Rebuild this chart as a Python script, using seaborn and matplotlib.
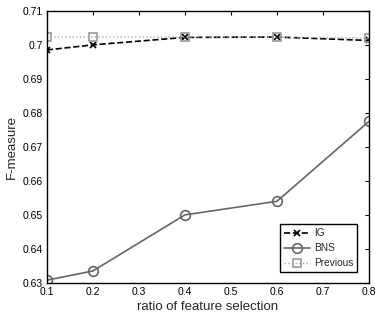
import numpy as np
import pandas as pd
import matplotlib
matplotlib.use("Agg")
import matplotlib.pyplot as plt
import seaborn as sns

ratio = [0.1, 0.2, 0.4, 0.6, 0.8]
ig = [0.6985, 0.7000, 0.7022, 0.7023, 0.7013]
bns = [0.6308, 0.6335, 0.6500, 0.6540, 0.6775]
previous = [0.7023, 0.7023, 0.7023, 0.7023, 0.7020]

sns.set_style("white")
plt.rcParams['font.family'] = ['Liberation Sans', 'DejaVu Sans']

df = pd.DataFrame({"ratio": ratio, "IG": ig, "BNS": bns, "Previous": previous})

fig = plt.figure(figsize=(3.75, 3.2), dpi=100)
ax = fig.add_axes([0.125, 0.116, 0.859, 0.85])

sns.lineplot(data=df, x="ratio", y="IG", ax=ax, color="black", linestyle="--",
             marker="x", markersize=5, mew=1.2, mec="black", linewidth=1.2, label="IG")
sns.lineplot(data=df, x="ratio", y="BNS", ax=ax, color="#666666", linestyle="-",
             marker="o", markersize=7, mfc="none", mec="#666666", mew=1.2, linewidth=1.2, label="BNS")
sns.lineplot(data=df, x="ratio", y="Previous", ax=ax, color="#aaaaaa", linestyle=":",
             marker="s", markersize=5.5, mfc="none", mec="#999999", mew=1.2, linewidth=1.0, label="Previous")

ax.set_xlim(0.1, 0.8)
ax.set_ylim(0.63, 0.71)
ax.set_xticks(np.arange(0.1, 0.81, 0.1))
ax.set_xticklabels(["0.1", "0.2", "0.3", "0.4", "0.5", "0.6", "0.7", "0.8"])
ax.set_yticks(np.arange(0.63, 0.711, 0.01))
ax.set_yticklabels(["0.63", "0.64", "0.65", "0.66", "0.67", "0.68", "0.69", "0.7", "0.71"])
ax.tick_params(direction="in", top=True, right=True, length=3, width=0.8,
               labelsize=7.5, pad=3, colors="black")
for s in ax.spines.values():
    s.set_color("black")
    s.set_linewidth(1.0)
ax.set_xlabel("ratio of feature selection", fontsize=9.5, labelpad=3)
ax.set_ylabel("F-measure", fontsize=9.5, labelpad=3)

leg = ax.legend(loc="lower right", fontsize=7.3, frameon=True, fancybox=False,
                edgecolor="black", framealpha=1, borderpad=0.4, labelspacing=0.5,
                handlelength=2.6, handletextpad=0.4, bbox_to_anchor=(0.98, 0.02))
leg.get_frame().set_linewidth(1.0)

fig.savefig("out.png", dpi=100)
